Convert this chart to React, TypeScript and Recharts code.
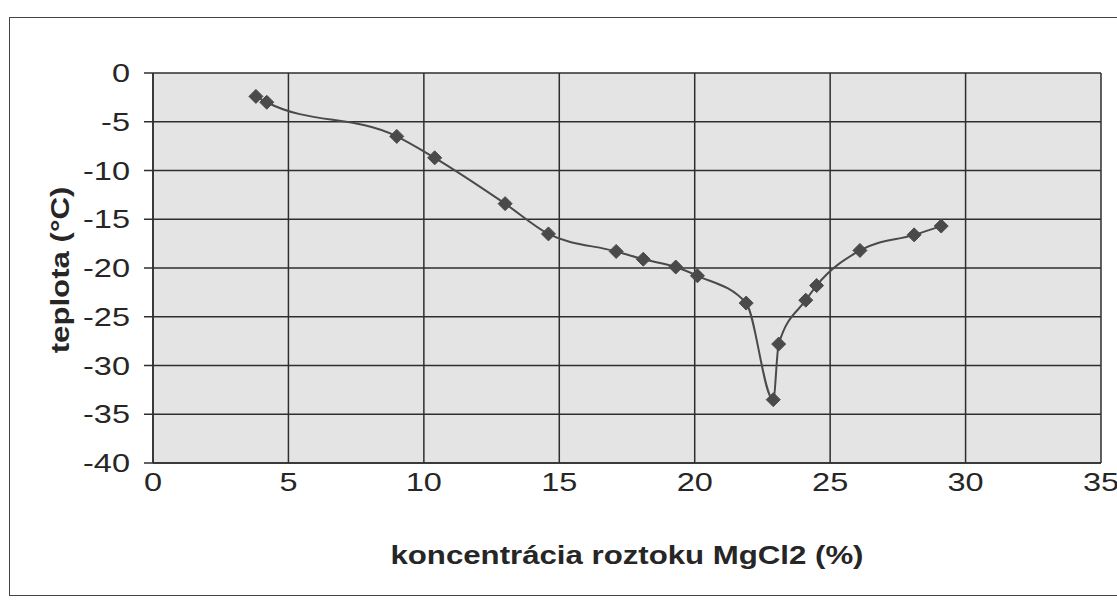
import React from 'react'
import { LineChart, Line, XAxis, YAxis, CartesianGrid } from 'recharts'

// concentration of MgCl2 solution (%) vs freezing temperature (°C)
const concentration = [3.8, 4.2, 9.0, 10.4, 13.0, 14.6, 17.1, 18.1, 19.3, 20.1, 21.9, 22.9, 23.1, 24.1, 24.5, 26.1, 28.1, 29.1]
const temperature = [-2.4, -3.0, -6.5, -8.7, -13.4, -16.5, -18.3, -19.1, -19.9, -20.8, -23.6, -33.5, -27.8, -23.3, -21.8, -18.2, -16.6, -15.7]

const xTicks = [0, 5, 10, 15, 20, 25, 30, 35]
const yTicks = [0, -5, -10, -15, -20, -25, -30, -35, -40]

const data = concentration.map((c, i) => ({ c, t: temperature[i] }))

const FONT = '"Liberation Sans", Arial, sans-serif'
const INK = '#262626'

function XTick({ x, y, payload }: any) {
  return (
    <g transform={`translate(${x},${y})`}>
      <text transform="scale(1.3,1)" textAnchor="middle" dy="0.36em" fontFamily={FONT} fontSize={25} fill={INK}>
        {payload.value}
      </text>
    </g>
  )
}

function YTick({ x, y, payload }: any) {
  return (
    <g transform={`translate(${x},${y})`}>
      <text transform="scale(1.3,1)" textAnchor="end" dy="0.36em" fontFamily={FONT} fontSize={25} fill={INK}>
        {payload.value}
      </text>
    </g>
  )
}

function XTitle({ viewBox }: any) {
  const cx = viewBox.x + viewBox.width / 2
  return (
    <g transform={`translate(${cx},${viewBox.y + 92})`}>
      <text transform="scale(1.2,1)" textAnchor="middle" dy="0.36em" fontFamily={FONT} fontWeight="bold" fontSize={26} fill={INK}>
        koncentrácia roztoku MgCl2 (%)
      </text>
    </g>
  )
}

function YTitle({ viewBox }: any) {
  const cy = viewBox.y + viewBox.height / 2
  return (
    <g transform={`translate(60,${cy + 2}) rotate(-90)`}>
      <text transform="scale(1.2,1)" textAnchor="middle" dy="0.36em" fontFamily={FONT} fontWeight="bold" fontSize={26} fill={INK}>
        teplota (°C)
      </text>
    </g>
  )
}

function Diamond({ cx, cy, index }: any) {
  const r = 7
  return (
    <path
      key={index}
      d={`M${cx},${cy - r} L${cx + r},${cy} L${cx},${cy + r} L${cx - r},${cy} Z`}
      fill="#4a4a4a"
      stroke="#4a4a4a"
      strokeWidth={1}
    />
  )
}

export default function App() {
  return (
    <div style={{ position: 'absolute', left: 0, top: 0, width: 1117, height: 600, background: '#fff', overflow: 'hidden' }}>
      {/* outer chart frame */}
      <div
        style={{
          position: 'absolute',
          left: 9,
          top: 17,
          width: 1120,
          height: 577,
          borderTop: '1.5px solid #444',
          borderLeft: '1.5px solid #444',
          borderBottom: '1.5px solid #444',
        }}
      />
      <div style={{ position: 'absolute', left: 0, top: 0 }}>
        <LineChart width={1117} height={600} data={data} margin={{ top: 73, right: 16, left: 0, bottom: 0 }}>
          <CartesianGrid stroke="#2e2e2e" strokeWidth={1.5} fill="#e4e4e4" fillOpacity={1} />
          <XAxis
            dataKey="c"
            type="number"
            domain={[0, 35]}
            ticks={xTicks}
            height={137}
            tickLine={false}
            tickSize={0}
            tickMargin={19}
            axisLine={{ stroke: '#2e2e2e', strokeWidth: 1.5 }}
            tick={<XTick />}
            label={{ content: <XTitle /> }}
          />
          <YAxis
            dataKey="t"
            type="number"
            domain={[-40, 0]}
            ticks={yTicks}
            width={153}
            tickSize={9}
            tickMargin={14}
            tickLine={{ stroke: '#2e2e2e', strokeWidth: 1.5 }}
            axisLine={{ stroke: '#2e2e2e', strokeWidth: 1.5 }}
            tick={<YTick />}
            label={{ content: <YTitle /> }}
          />
          <Line
            type="monotone"
            dataKey="t"
            stroke="#4a4a4a"
            strokeWidth={2}
            dot={<Diamond />}
            activeDot={false}
            isAnimationActive={false}
          />
        </LineChart>
      </div>
    </div>
  )
}
